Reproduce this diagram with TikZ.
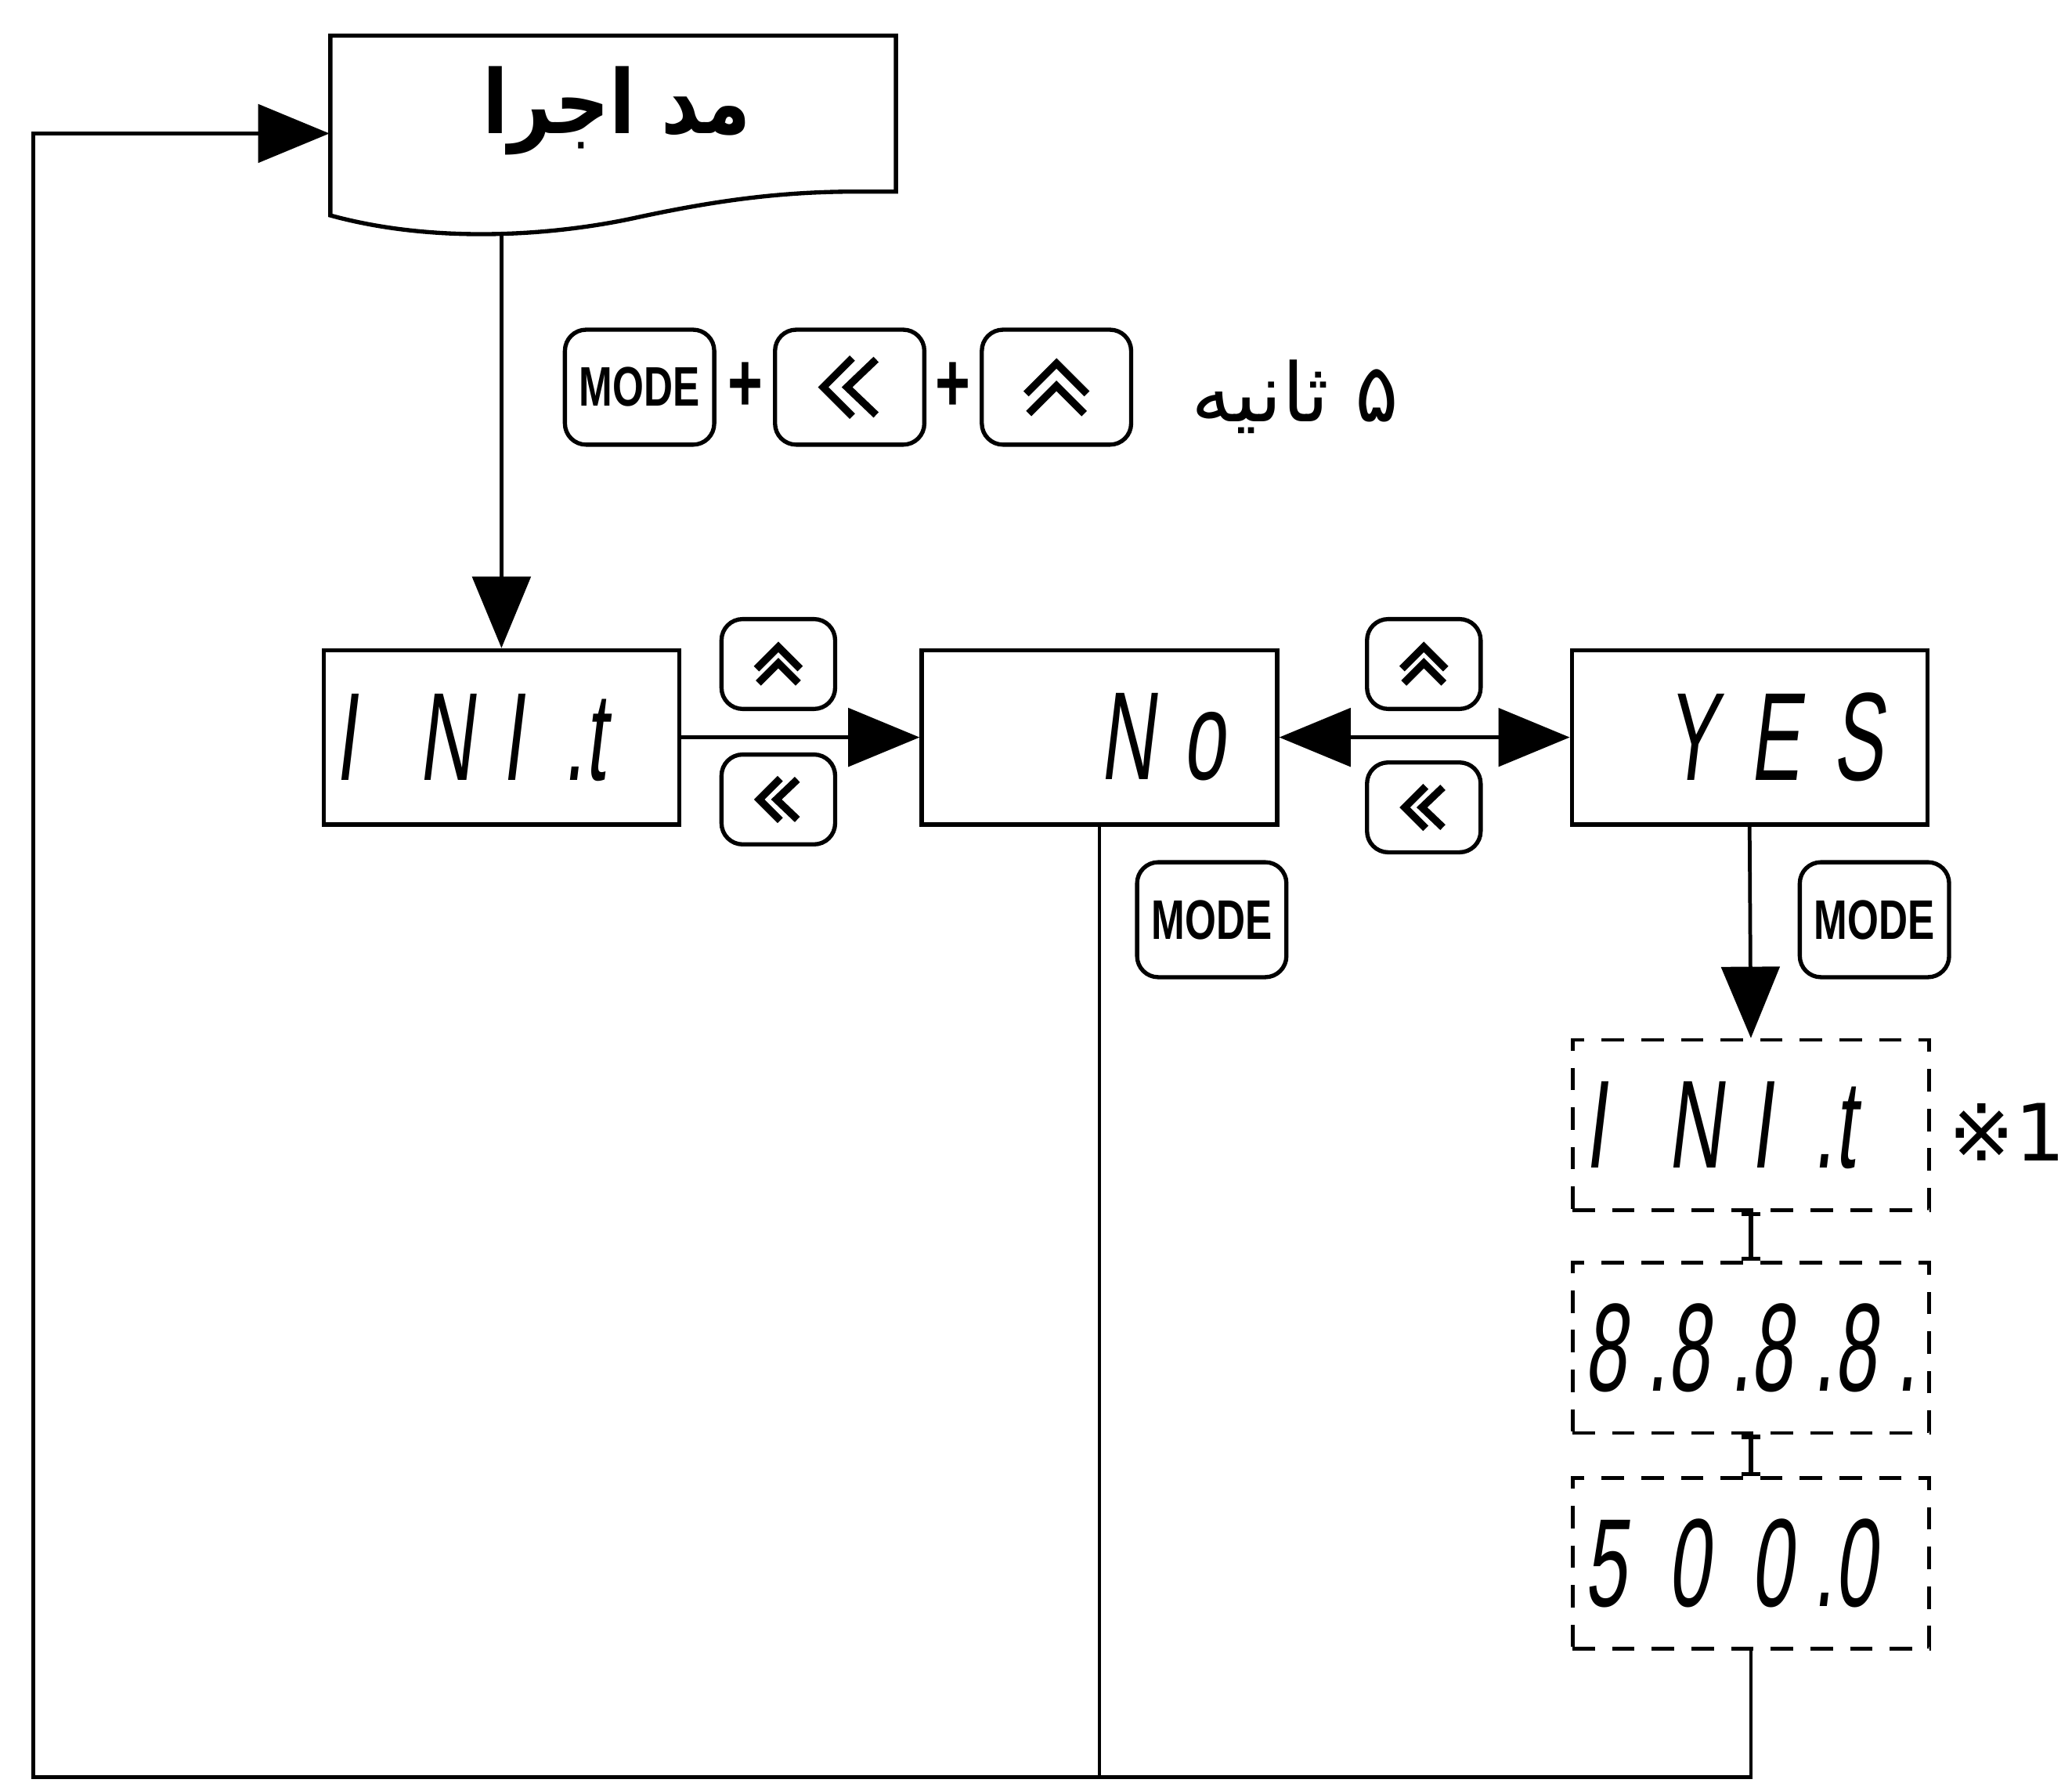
\documentclass[tikz,border=0pt]{standalone}
\usepackage{fontspec}
\usetikzlibrary{arrows.meta}
\TeXXeTstate=1
\newfontfamily\arabicfont[Script=Arabic]{DejaVu Sans}
\newfontfamily\arabicnarrow[Script=Arabic,FakeStretch=0.85]{DejaVu Sans}
\newfontfamily\segfont[FakeSlant=0.12,FakeStretch=0.6]{Liberation Sans}
\newfontfamily\modefont[FakeStretch=0.72]{Liberation Sans}
\newfontfamily\symfont{DejaVu Sans}
\newcommand\dcell[1]{\makebox[0.63cm][l]{#1}}
\begin{document}
\begin{tikzpicture}[x=0.1mm,y=-0.1mm,
  disp/.style={draw, line width=0.9pt, minimum width=2.69cm, minimum height=1.32cm, inner sep=0pt,
    font=\segfont\fontsize{27}{27}\selectfont},
  dbox/.style={disp, dash pattern=on 1.7mm off 1.3mm, line width=0.8pt, minimum width=2.70cm, minimum height=1.29cm},
  btn/.style={draw, rounded corners=1.6mm, line width=0.9pt, minimum width=1.13cm, minimum height=0.87cm, inner sep=0pt},
  sbtn/.style={btn, minimum width=0.86cm, minimum height=0.68cm},
  modetxt/.style={font=\modefont\bfseries\fontsize{12}{12}\selectfont},
  plustxt/.style={font=\modefont\bfseries\fontsize{18}{18}\selectfont, inner sep=0pt},
  conn/.style={line width=0.8pt},
  arr/.style={conn, -{Triangle[length=5.4mm,width=4.4mm]}},
  arrtwo/.style={conn, {Triangle[length=5.4mm,width=4.4mm]}-{Triangle[length=5.4mm,width=4.4mm]}},
  ibeam/.style={line width=0.9pt, {Bar[width=1.4mm]}-{Bar[width=1.4mm]}},
  upchev/.pic={\draw[line width=1.6pt] (-23,5) -- (0,-18) -- (23,5) (-21,20) -- (0,-1) -- (21,20);},
  leftchev/.pic={\draw[line width=1.6pt] (2,-22) -- (-20,0) -- (2,22) (20,-21) -- (-2,0) -- (20,21);}
]
\useasboundingbox (0,0) rectangle (1568,1349);

% run mode box
\node[minimum width=4.28cm, minimum height=1.48cm, inner sep=0pt] (run) at (464,101) {};
\draw[line width=0.9pt] (250,163) -- (250,27) -- (678,27) -- (678,145) -- (648,145)
  .. controls (590,145) and (540,152) .. (480,165)
  .. controls (420,178) and (330,185) .. (250,163) -- cycle;
\node (runlabel) at (467,84) {\arabicnarrow\bfseries\fontsize{19}{19}\selectfont\beginR مد اجرا\endR};

% key combination
\node[btn, modetxt] (mode1) at (484,293) {MODE};
\node[plustxt] (plus1) at (564,293) {+};
\node[btn] (left1) at (643,293) {};
\node[plustxt] (plus2) at (721,293) {+};
\node[btn] (up1) at (799.5,293) {};
\pic at (left1.center) {leftchev};
\pic at (up1.center) {upchev};
\node (sec) at (980,300) {\arabicfont\fontsize{17.5}{17.5}\selectfont\beginR ۵ ثانیه\endR};

% display boxes
\node[disp] (init) at (379.5,558) {\dcell{I}\dcell{N}\dcell{I\hfill.}\dcell{t}};
\node[disp] (no) at (832,558) {\dcell{}\dcell{}\dcell{N}\dcell{o}};
\node[disp] (yes) at (1324,558) {\dcell{}\dcell{Y}\dcell{E}\dcell{S}};

\node[sbtn] (up2) at (589,502.5) {};
\node[sbtn] (left2) at (589,605) {};
\pic[scale=0.72] at (up2.center) {upchev};
\pic[scale=0.72] at (left2.center) {leftchev};
\node[sbtn] (up3) at (1077.5,502.5) {};
\node[sbtn] (left3) at (1077.5,611) {};
\pic[scale=0.72] at (up3.center) {upchev};
\pic[scale=0.72] at (left3.center) {leftchev};
\node[btn, modetxt] (mode2) at (917,696) {MODE};
\node[btn, modetxt] (mode3) at (1418.5,696) {MODE};

% dashed sequence
\node[dbox] (d1) at (1325,851.5) {\dcell{I}\dcell{N}\dcell{I\hfill.}\dcell{t}};
\node[dbox] (d2) at (1325,1020) {\dcell{8\hfill.}\dcell{8\hfill.}\dcell{8\hfill.}\dcell{8\hfill.}};
\node[dbox] (d3) at (1325,1183) {\dcell{5}\dcell{0}\dcell{0\hfill.}\dcell{0}};
\node[anchor=west, inner sep=0pt] (note) at (1474,857) {\symfont\fontsize{17}{17}\selectfont ※1};

% connectors
\coordinate (bl) at (25,1345);
\draw[arr] (run.south -| init.north) -- (init.north);
\draw[arr] (init.east) -- (no.west);
\draw[arrtwo] (no.east) -- (yes.west);
\draw[arr] (yes.south) -- (d1.north);
\draw[ibeam] (d1.south) -- (d2.north);
\draw[ibeam] (d2.south) -- (d3.north);
\draw[arr] (d3.south) |- (bl) |- (run.west);
\draw[conn] (no.south) -- (no.south |- bl);
\end{tikzpicture}
\end{document}
